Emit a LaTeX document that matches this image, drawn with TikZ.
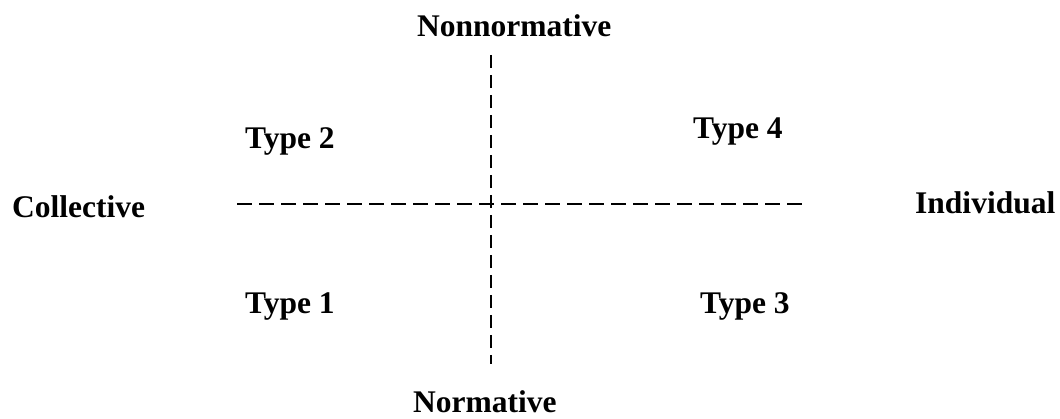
\documentclass[tikz,border=0pt]{standalone}
\usepackage{fontspec}
\setmainfont{Liberation Serif}
\begin{document}
\begin{tikzpicture}[x=1pt,y=-1pt,
  lbl/.style={font=\fontsize{31.5}{36}\selectfont\bfseries, inner sep=0pt, anchor=base west},
  axis/.style={line width=1.6pt, black}]
\useasboundingbox (0,0) rectangle (1060,419);
% axis labels
\node[lbl] (nonnorm) at (417,37) {Nonnormative};
\node[lbl] (norm) at (413,413) {Normative};
\node[lbl] (coll) at (12,218) {Collective};
\node[lbl] (indiv) at (915,214) {Individual};
% quadrant labels
\node[lbl] (t2) at (245,149) {Type 2};
\node[lbl] (t4) at (693,139) {Type 4};
\node[lbl] (t1) at (245,314) {Type 1};
\node[lbl] (t3) at (700,314) {Type 3};
% dashed axes
\coordinate (hl) at (237,204);
\coordinate (hr) at (802,204);
\coordinate (vt) at (491,55);
\coordinate (vb) at (491,364);
\draw[axis, dash pattern=on 15pt off 7pt] (hl) -- (hr);
\draw[axis, dash pattern=on 13pt off 7pt] (vt) -- (vb);
\end{tikzpicture}
\end{document}
